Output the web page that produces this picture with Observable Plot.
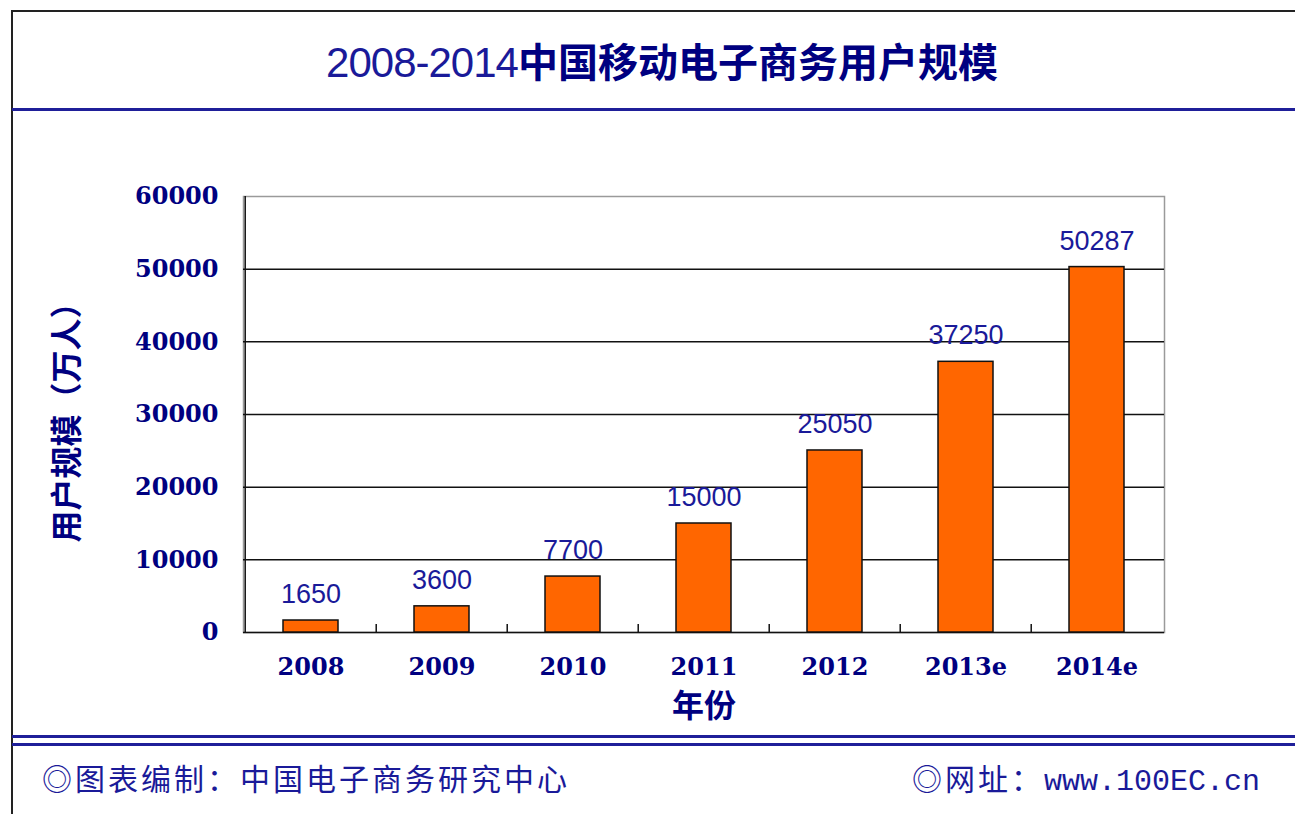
<!DOCTYPE html>
<html>
<head>
<meta charset="utf-8">
<script src="https://cdn.jsdelivr.net/npm/d3@7"></script>
<script src="https://cdn.jsdelivr.net/npm/@observablehq/plot@0.6"></script>
<style>
  html, body { margin: 0; padding: 0; background: #fff; }
  #page { position: relative; width: 1295px; height: 814px; overflow: hidden; background: #fff; }
  .hline { position: absolute; left: 12px; right: 0; }
  #title { position: absolute; left: 12px; width: 1300px; top: 35px; line-height: 50px; text-align: center; color: #000080; white-space: nowrap; }
  #title .num { font-family: "Liberation Sans Narrow", "Liberation Sans", Arial, sans-serif; font-size: 42px; font-weight: normal; color: #1a1a99; letter-spacing: -1px; }
  #title .zh { font-family: "Noto Sans CJK SC", sans-serif; font-size: 40px; font-weight: bold; }
  .foot { position: absolute; top: 757px; line-height: 40px; font-family: "Noto Sans CJK SC", sans-serif; font-size: 30px; color: #1a1a99; letter-spacing: 3px; white-space: nowrap; }
  .foot .mono { font-family: "Liberation Mono", "DejaVu Sans Mono", monospace; letter-spacing: 0; }
  #chart { position: absolute; left: 0; top: 120px; }
</style>
</head>
<body>
<div id="page">
  <div style="position:absolute; left:12px; right:0; top:10px; height:2px; background:#222;"></div>
  <div style="position:absolute; left:11px; top:10px; bottom:0; width:2px; background:#222;"></div>
  <div id="title"></div>
  <div class="hline" style="top:108px; height:3px; background:#1f1f99;"></div>
  <div id="chart"></div>
  <div class="hline" style="top:735px; height:3px; background:#1f1f99;"></div>
  <div class="hline" style="top:743px; height:3px; background:#1f1f99;"></div>
  <div class="foot" id="footL" style="left:42px;"></div>
  <div class="foot" id="footR" style="left:912px;"></div>
</div>
<script>
const titleNum = "2008-2014";
const titleZh = "中国移动电子商务用户规模";
const years = ["2008", "2009", "2010", "2011", "2012", "2013e", "2014e"];
const users = [1650, 3600, 7700, 15000, 25050, 37250, 50287];
const yTicks = [0, 10000, 20000, 30000, 40000, 50000, 60000];
const xLabel = "年份";
const yLabel = "用户规模（万人）";
const footLeft = "◎图表编制：中国电子商务研究中心";
const footRightZh = "◎网址：";
const footRightUrl = "www.100EC.cn";

document.getElementById("title").innerHTML =
  `<span class="num">${titleNum}</span><span class="zh">${titleZh}</span>`;
document.getElementById("footL").textContent = footLeft;
document.getElementById("footR").innerHTML = `${footRightZh}<span class="mono">${footRightUrl}</span>`;

const data = years.map((y, i) => ({year: y, value: users[i]}));

const W = 1295, H = 600;
const mL = 243, mR = 131, mT = 76, mB = 88;
const innerW = W - mL - mR, innerH = H - mT - mB;
const step = innerW / years.length;
const navy = "#000080";
const serifBold = "'DejaVu Serif', serif";

const chart = Plot.plot({
  width: W,
  height: H,
  marginLeft: mL,
  marginRight: mR,
  marginTop: mT,
  marginBottom: mB,
  style: {background: "transparent", overflow: "visible"},
  x: {domain: years, paddingInner: 0.58, paddingOuter: 0.29, axis: null},
  y: {domain: [yTicks[0], yTicks[yTicks.length - 1]], axis: null},
  marks: [
    Plot.frame({stroke: "#9a9a9a", strokeWidth: 1.5}),
    Plot.ruleY(yTicks.slice(0, -1), {stroke: "#111", strokeWidth: 1.5}),
    Plot.ruleX([years[0]], {dx: -step / 2, stroke: "#111", strokeWidth: 1.5}),
    Plot.ruleX(years.slice(1), {dx: -step / 2, stroke: "#111", strokeWidth: 1.5, insetTop: innerH - 8}),
    Plot.barY(data, {x: "year", y: "value", fill: "#FF6600", stroke: "#111", strokeWidth: 1.5}),
    Plot.text(data, {x: "year", y: "value", text: d => String(d.value), dy: -26,
      fill: "#1a1a99", fontSize: 27, fontFamily: "'Liberation Sans', Arial, sans-serif"}),
    Plot.axisY({ticks: yTicks, tickSize: 0, tickPadding: 25, label: null, tickFormat: d => String(d),
      fill: navy, fontSize: 24, fontWeight: "bold", fontFamily: serifBold}),
    Plot.axisX({tickSize: 0, tickPadding: 25, label: null,
      fill: navy, fontSize: 24, fontWeight: "bold", fontFamily: serifBold}),
    Plot.text([xLabel], {frameAnchor: "bottom", lineAnchor: "middle", dy: 74, text: d => d, fill: navy, fontSize: 32,
      fontWeight: "bold", fontFamily: "'Noto Sans CJK SC', sans-serif"}),
    Plot.text([yLabel], {frameAnchor: "left", textAnchor: "middle", lineAnchor: "middle", dx: -176, rotate: -90,
      text: d => d, fill: navy, fontSize: 32, fontWeight: "bold", fontFamily: "'Noto Sans CJK SC', sans-serif"})
  ]
});
document.getElementById("chart").appendChild(chart);
</script>
</body>
</html>
